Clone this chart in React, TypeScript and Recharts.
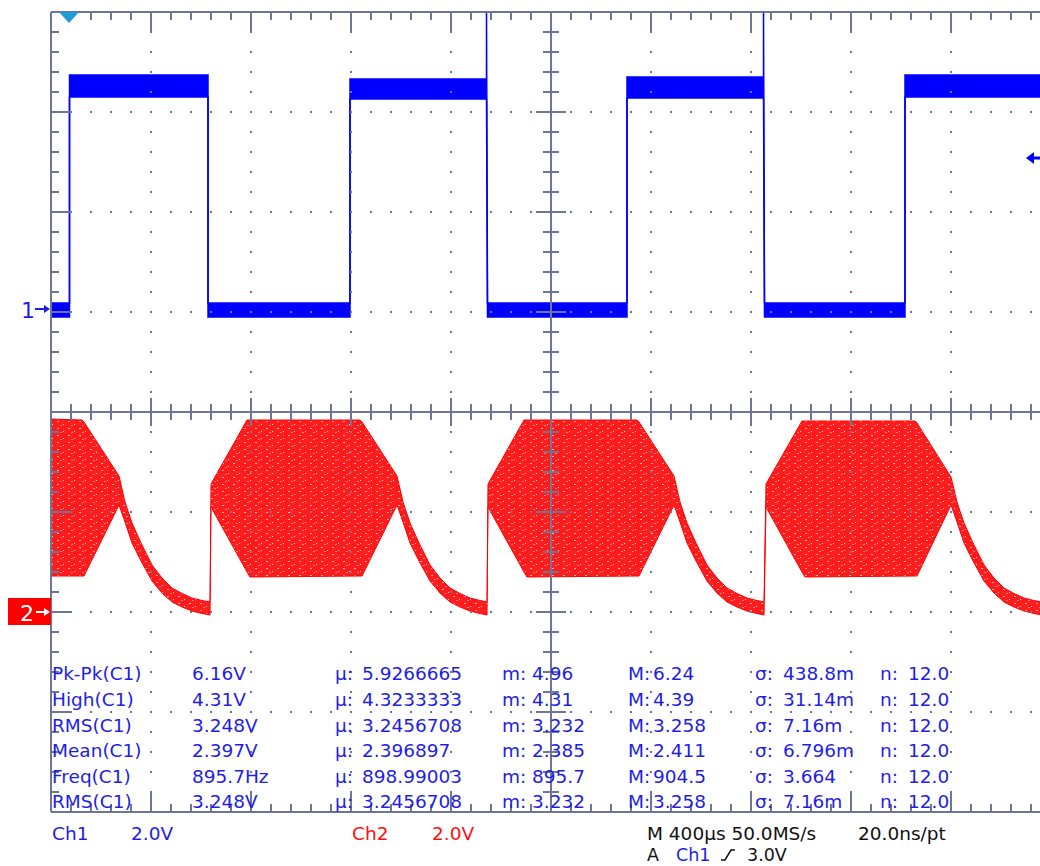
import React from 'react';
import { ComposedChart, Area, XAxis, YAxis, ReferenceLine } from 'recharts';

// ---- scope settings ----
const timeDomainUs: [number, number] = [0, 4000]; // 400 µs/div x 10 div
const usPerDiv = 400;
const ch1VoltsPerDiv = 2.0;
const ch2VoltsPerDiv = 2.0;
const ch1GroundDiv = 1;
const ch2GroundDiv = -2;

// ---- Ch1 (blue) square wave: time (µs), noise band low / high (V) ----
const ch1TimeUs = [0, 74, 74, 628, 628, 1196, 1196, 1742, 1742, 1746, 2304, 2304, 2850, 2850, 2854, 3416, 3416, 4000];
const ch1LowV = [-0.1, -0.1, 4.3, 4.3, -0.1, -0.1, 4.26, 4.26, 4.26, -0.1, -0.1, 4.28, 4.28, 4.28, -0.1, -0.1, 4.3, 4.3];
const ch1HighV = [0.18, 0.18, 4.74, 4.74, 0.18, 0.18, 4.66, 4.66, 6.0, 0.18, 0.18, 4.7, 4.7, 6.0, 0.18, 0.18, 4.74, 4.74];

// ---- Ch2 (red) burst envelope: time (µs), envelope low / high (V) ----
const ch2TimeUs = [
  0, 124, 132, 272, 296, 324, 360, 404, 444, 484, 524, 564, 604, 636,
  640, 784, 796, 1236, 1244, 1384, 1408, 1436, 1472, 1516, 1556, 1596, 1636, 1676, 1716, 1744,
  1748, 1892, 1904, 2344, 2352, 2492, 2516, 2544, 2580, 2624, 2664, 2704, 2744, 2784, 2824, 2852,
  2860, 3004, 3016, 3456, 3464, 3600, 3624, 3652, 3688, 3732, 3772, 3812, 3852, 3892, 3932, 3964, 4000,
];
const ch2LowV = [
  0.72, 0.72, 0.72, 2.14, 1.8, 1.38, 1.02, 0.62, 0.38, 0.2, 0.1, 0.02, -0.03, -0.06,
  2.1, 0.8, 0.7, 0.72, 0.72, 2.14, 1.8, 1.38, 1.02, 0.62, 0.38, 0.2, 0.1, 0.02, -0.03, -0.06,
  2.1, 0.8, 0.7, 0.72, 0.72, 2.14, 1.8, 1.38, 1.02, 0.62, 0.38, 0.2, 0.1, 0.02, -0.03, -0.06,
  2.1, 0.8, 0.7, 0.72, 0.72, 2.14, 1.8, 1.38, 1.02, 0.62, 0.38, 0.2, 0.1, 0.02, -0.03, -0.06, -0.06,
];
const ch2HighV = [
  3.86, 3.84, 3.8, 2.72, 2.2, 1.78, 1.38, 0.94, 0.68, 0.48, 0.37, 0.28, 0.23, 0.2,
  2.56, 3.84, 3.84, 3.84, 3.8, 2.72, 2.2, 1.78, 1.38, 0.94, 0.68, 0.48, 0.37, 0.28, 0.23, 0.2,
  2.56, 3.84, 3.84, 3.84, 3.8, 2.72, 2.2, 1.78, 1.38, 0.94, 0.68, 0.48, 0.37, 0.28, 0.23, 0.2,
  2.56, 3.82, 3.82, 3.82, 3.78, 2.7, 2.2, 1.78, 1.38, 0.94, 0.68, 0.48, 0.37, 0.28, 0.23, 0.2, 0.19,
];

// ---- measurement table ----
const measLabels = ['Pk-Pk(C1)', 'High(C1)', 'RMS(C1)', 'Mean(C1)', 'Freq(C1)', 'RMS(C1)'];
const measValues = ['6.16V', '4.31V', '3.248V', '2.397V', '895.7Hz', '3.248V'];
const measMean = ['5.9266665', '4.3233333', '3.2456708', '2.396897', '898.99003', '3.2456708'];
const measMin = ['4.96', '4.31', '3.232', '2.385', '895.7', '3.232'];
const measMax = ['6.24', '4.39', '3.258', '2.411', '904.5', '3.258'];
const measStd = ['438.8m', '31.14m', '7.16m', '6.796m', '3.664', '7.16m'];
const measCount = ['12.0', '12.0', '12.0', '12.0', '12.0', '12.0'];

const ch1Data = ch1TimeUs.map((t, i) => ({
  t,
  range: [ch1LowV[i] / ch1VoltsPerDiv + ch1GroundDiv, ch1HighV[i] / ch1VoltsPerDiv + ch1GroundDiv],
}));
const ch2Data = ch2TimeUs.map((t, i) => ({
  t,
  range: [ch2LowV[i] / ch2VoltsPerDiv + ch2GroundDiv, ch2HighV[i] / ch2VoltsPerDiv + ch2GroundDiv],
}));

const GRID = '#6e7696';
const BLUE = '#0000ff';
const TXT_BLUE = '#1e1ee6';
const RED = '#ff0000';
const FONT = '"DejaVu Sans", Verdana, sans-serif';

function graticule() {
  const out: React.ReactElement[] = [];
  let k = 0;
  const seg = (x1: number, y1: number, x2: number, y2: number) =>
    out.push(
      <ReferenceLine
        key={'s' + k++}
        segment={[{ x: x1, y: y1 }, { x: x2, y: y2 }]}
        stroke={GRID}
        strokeWidth={2}
        ifOverflow="visible"
      />
    );
  for (let i = 1; i < 10; i++) {
    if (i === 5) continue;
    out.push(
      <ReferenceLine key={'vx' + i} x={i * usPerDiv} stroke={GRID} strokeWidth={2} strokeDasharray="2 18" strokeDashoffset={1} />
    );
  }
  for (let j = -3; j <= 3; j++) {
    if (j === 0) continue;
    out.push(
      <ReferenceLine key={'hy' + j} y={j} stroke={GRID} strokeWidth={2} strokeDasharray="2 18" strokeDashoffset={1} />
    );
  }
  out.push(<ReferenceLine key="fl" x={0} stroke={GRID} strokeWidth={2} />);
  out.push(<ReferenceLine key="fr" x={4000} stroke={GRID} strokeWidth={2} />);
  out.push(<ReferenceLine key="ft" y={4} stroke={GRID} strokeWidth={2} />);
  out.push(<ReferenceLine key="fb" y={-4} stroke={GRID} strokeWidth={2} />);
  out.push(<ReferenceLine key="cx" x={2000} stroke={GRID} strokeWidth={2} />);
  out.push(<ReferenceLine key="cy" y={0} stroke={GRID} strokeWidth={2} />);
  for (let i = 0; i <= 50; i++) {
    const t = i * (usPerDiv / 5);
    const major = i % 5 === 0;
    seg(t, 4, t, 4 - (major ? 0.21 : 0.08));
    seg(t, -4, t, -4 + (major ? 0.2 : 0.08));
    seg(t, -(major ? 0.14 : 0.08), t, major ? 0.14 : 0.08);
  }
  for (let j = -20; j <= 20; j++) {
    const y = j * 0.2;
    const major = j % 5 === 0;
    seg(0, y, (major ? 0.2 : 0.08) * usPerDiv, y);
    const hw = (major ? 0.15 : 0.08) * usPerDiv;
    seg(2000 - hw, y, 2000 + hw, y);
  }
  return out;
}

const colX = { label: 52, value: 192, mu: 335, muV: 362, m: 502, mV: 532, M: 628, MV: 653, s: 755, sV: 783, n: 880, nV: 908 };
const rowY = [680, 706, 732, 757, 783, 808];

export default function App() {
  return (
    <div
      style={{
        position: 'fixed',
        left: 0,
        top: 0,
        width: 1040,
        height: 866,
        overflow: 'hidden',
        background: '#ffffff',
      }}
    >
      <ComposedChart width={1060} height={866} margin={{ top: 12, right: 9, bottom: 54, left: 51 }}>
        <defs>
          <pattern id="speck" width="11" height="7" patternUnits="userSpaceOnUse">
            <rect width="11" height="7" fill="#ff1c1c" />
            <rect x="2" y="1" width="2" height="1" fill="#ffb0b0" />
            <rect x="8" y="4" width="1" height="1" fill="#ffd0d0" />
            <rect x="5" y="5" width="2" height="1" fill="#ff8080" />
          </pattern>
        </defs>
        <XAxis dataKey="t" type="number" domain={timeDomainUs} allowDataOverflow hide />
        <YAxis type="number" domain={[-4, 4]} allowDataOverflow hide />
        <Area
          data={ch2Data}
          dataKey="range"
          type="linear"
          stroke={RED}
          strokeWidth={1}
          fill="url(#speck)"
          fillOpacity={1}
          isAnimationActive={false}
          dot={false}
          activeDot={false}
        />
        <Area
          data={ch1Data}
          dataKey="range"
          type="linear"
          stroke={BLUE}
          strokeWidth={1.5}
          fill={BLUE}
          fillOpacity={1}
          isAnimationActive={false}
          dot={false}
          activeDot={false}
        />
        {graticule()}
      </ComposedChart>
      <svg
        width={1040}
        height={866}
        style={{ position: 'absolute', left: 0, top: 0, pointerEvents: 'none' }}
        fontFamily={FONT}
        fontSize={18.5}
      >
        <polygon points="59,12 79,12 69,23" fill="#1e9ad6" />
        <text x={21} y={318} fill={TXT_BLUE} fontSize={22}>1</text>
        <path d="M35 309 H45" stroke={TXT_BLUE} strokeWidth={2} />
        <polygon points="44,305 50,309 44,313" fill={TXT_BLUE} />
        <rect x={8} y={598} width={43} height={27} fill={RED} />
        <text x={20} y={621} fill="#ffffff" fontSize={22}>2</text>
        <path d="M36 612 H45" stroke="#ffffff" strokeWidth={2} />
        <polygon points="44,608 50,612 44,616" fill="#ffffff" />
        <path d="M1032 158 H1040" stroke={BLUE} strokeWidth={3} />
        <polygon points="1026,158 1034,152 1034,164" fill={BLUE} />
        {measLabels.map((l, i) => (
          <g key={i} fill={TXT_BLUE}>
            <text x={colX.label} y={rowY[i]}>{l}</text>
            <text x={colX.value} y={rowY[i]}>{measValues[i]}</text>
            <text x={colX.mu} y={rowY[i]}>µ:</text>
            <text x={colX.muV} y={rowY[i]}>{measMean[i]}</text>
            <text x={colX.m} y={rowY[i]}>m:</text>
            <text x={colX.mV} y={rowY[i]}>{measMin[i]}</text>
            <text x={colX.M} y={rowY[i]}>M:</text>
            <text x={colX.MV} y={rowY[i]}>{measMax[i]}</text>
            <text x={colX.s} y={rowY[i]}>σ:</text>
            <text x={colX.sV} y={rowY[i]}>{measStd[i]}</text>
            <text x={colX.n} y={rowY[i]}>n:</text>
            <text x={colX.nV} y={rowY[i]}>{measCount[i]}</text>
          </g>
        ))}
        <text x={52} y={840} fill={TXT_BLUE}>Ch1</text>
        <text x={131} y={840} fill={TXT_BLUE}>2.0V</text>
        <text x={352} y={840} fill="#ff1010">Ch2</text>
        <text x={432} y={840} fill="#ff1010">2.0V</text>
        <text x={647} y={840} fill="#111111">M 400µs 50.0MS/s</text>
        <text x={858} y={840} fill="#111111">20.0ns/pt</text>
        <text x={647} y={861} fill="#111111" fontSize={17.5}>A</text>
        <text x={676} y={861} fill={TXT_BLUE} fontSize={17.5}>Ch1</text>
        <path d="M721 860 H725 L731 850 H735" stroke="#111111" strokeWidth={1.5} fill="none" />
        <text x={747} y={861} fill="#111111" fontSize={17.5}>3.0V</text>
      </svg>
    </div>
  );
}
